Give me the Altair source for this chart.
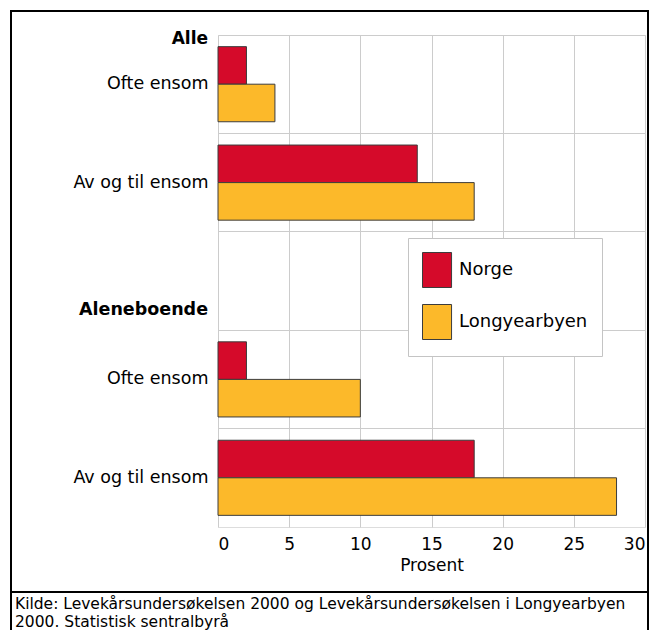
import altair as alt
import pandas as pd

# ---- data ----
groups = ["Alle", "Alle", "Aleneboende", "Aleneboende"]
items = ["Ofte ensom", "Av og til ensom", "Ofte ensom", "Av og til ensom"]
row_keys = ["r1", "r2", "r4", "r5"]
all_keys = ["r1", "r2", "r3", "r4", "r5"]
row_labels = ["Ofte ensom", "Av og til ensom", "", "Ofte ensom", "Av og til ensom"]
series = ["Norge", "Longyearbyen"]
norge = [2, 14, 2, 18]
longyearbyen = [4, 18, 10, 28]
colors = ["#d50a2a", "#fcb92a"]
x_ticks = [0, 5, 10, 15, 20, 25, 30]
x_title = "Prosent"
source_lines = [
    "Kilde: Levekårsundersøkelsen 2000 og Levekårsundersøkelsen i Longyearbyen",
    "2000. Statistisk sentralbyrå",
]

FONT = "DejaVu Sans"

rows = []
for g, it, k, n, l in zip(groups, items, row_keys, norge, longyearbyen):
    rows.append({"group": g, "item": it, "key": k, "serie": series[0], "value": n})
    rows.append({"group": g, "item": it, "key": k, "serie": series[1], "value": l})
df = pd.DataFrame(rows)

label_expr = "".join(
    f"datum.value == '{k}' ? '{lab}' : " for k, lab in zip(all_keys, row_labels)
) + "''"

y_scale = alt.Scale(domain=all_keys, paddingInner=0, paddingOuter=0)

bars = alt.Chart(df).mark_bar(stroke="#3c3c3c", strokeWidth=1).encode(
    x=alt.X(
        "value:Q",
        scale=alt.Scale(domain=[0, 30], nice=False),
        axis=alt.Axis(
            values=x_ticks, title=x_title, grid=True, ticks=False, domain=False,
            labelFontSize=17, labelFont=FONT, labelColor="black", labelPadding=9,
            titleFontSize=17, titleFont=FONT, titleFontWeight="normal",
            titleColor="black", titlePadding=5, gridColor="#cccccc",
        ),
    ),
    y=alt.Y(
        "key:N",
        scale=y_scale,
        sort=all_keys,
        axis=alt.Axis(
            title=None, labelExpr=label_expr, ticks=False, domain=False,
            grid=True, bandPosition=0, gridColor="#cccccc",
            labelFontSize=17.5, labelFont=FONT, labelColor="black", labelPadding=10,
        ),
    ),
    yOffset=alt.YOffset(
        "serie:N", sort=series,
        scale=alt.Scale(domain=series, paddingOuter=0.31, paddingInner=0),
    ),
    color=alt.Color(
        "serie:N",
        sort=series,
        scale=alt.Scale(domain=series, range=colors),
        legend=alt.Legend(
            title=None, orient="none", legendX=190, legendY=203,
            symbolType="M-1,-1H0.66V1H-1Z", symbolSize=1225,
            symbolStrokeColor="#3c3c3c", symbolStrokeWidth=1,
            labelFontSize=18, labelFont=FONT, labelColor="black",
            labelOffset=1, padding=14, rowPadding=12,
            strokeColor="#c4c4c4", fillColor="white",
        ),
    ),
)

grp_df = pd.DataFrame({"label": ["Alle", "Aleneboende"], "key": ["r1", "r3"]})

alle_lbl = alt.Chart(grp_df).transform_filter(alt.datum.key == "r1").mark_text(
    align="right", baseline="middle", fontSize=17, font=FONT, fontWeight="bold",
    color="black", dy=4,
).encode(
    x=alt.value(-10),
    y=alt.Y("key:N", scale=y_scale, sort=all_keys, bandPosition=0),
    text="label:N",
)

alene_lbl = alt.Chart(grp_df).transform_filter(alt.datum.key == "r3").mark_text(
    align="right", baseline="middle", fontSize=17.5, font=FONT, fontWeight="bold",
    color="black", dy=-20,
).encode(
    x=alt.value(-10),
    y=alt.Y("key:N", scale=y_scale, sort=all_keys, bandPosition=1),
    text="label:N",
)

one = pd.DataFrame({"o": [0]})
frame_kw = dict(color="black", strokeWidth=2)
frame_top = alt.Chart(one).mark_rule(**frame_kw).encode(
    x=alt.value(-207), x2=alt.value(430), y=alt.value(-24))
frame_sep = alt.Chart(one).mark_rule(**frame_kw).encode(
    x=alt.value(-207), x2=alt.value(430), y=alt.value(557))
frame_left = alt.Chart(one).mark_rule(**frame_kw).encode(
    x=alt.value(-207), y=alt.value(-25), y2=alt.value(596))
frame_right = alt.Chart(one).mark_rule(**frame_kw).encode(
    x=alt.value(430), y=alt.value(-25), y2=alt.value(596))

source = alt.Chart(one).mark_text(
    align="left", baseline="middle", fontSize=15.5, font=FONT, color="black",
    lineHeight=17.5,
).encode(x=alt.value(-203), y=alt.value(569), text=alt.value(source_lines))

chart = alt.layer(
    bars, alle_lbl, alene_lbl, frame_top, frame_sep, frame_left, frame_right, source
).properties(
    width=427,
    height=492,
    autosize=alt.AutoSizeParams(type="none"),
    padding={"left": 210, "top": 27, "right": 4, "bottom": 103},
).configure_view(stroke="#cccccc").configure(background="white")

chart.save("out.html", embed_options={"renderer": "svg", "actions": False})
